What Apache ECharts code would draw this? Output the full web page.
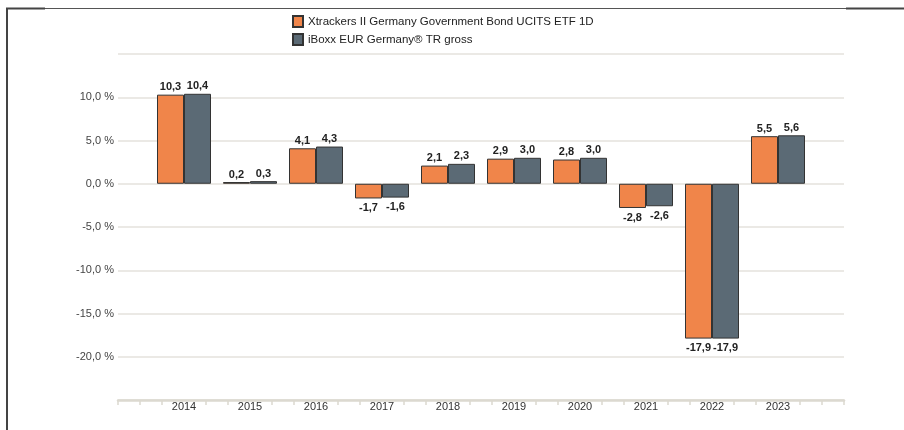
<!DOCTYPE html>
<html>
<head>
<meta charset="utf-8">
<script src="https://cdn.jsdelivr.net/npm/echarts@6/dist/echarts.min.js"></script>
<style>
html,body{margin:0;padding:0;background:#fff;}
#chart{width:904px;height:430px;}
</style>
</head>
<body>
<div id="chart"></div>
<script>
const years = [2014, 2015, 2016, 2017, 2018, 2019, 2020, 2021, 2022, 2023];
const etfName = 'Xtrackers II Germany Government Bond UCITS ETF 1D';
const idxName = 'iBoxx EUR Germany® TR gross';
const etfValues = [10.3, 0.2, 4.1, -1.7, 2.1, 2.9, 2.8, -2.8, -17.9, 5.5];
const idxValues = [10.4, 0.3, 4.3, -1.6, 2.3, 3.0, 3.0, -2.6, -17.9, 5.6];
const yTickLabels = [-20, -15, -10, -5, 0, 5, 10];

const fmt = v => v.toFixed(1).replace('.', ',');
function build(vals) {
  return vals.map((v, i) => ({
    value: [years[i], v],
    label: { position: v >= 0 ? 'top' : 'bottom', distance: v >= 0 ? 2 : 4 }
  }));
}
const minorTicks = [];
for (let y = 2013; y < 2024; y++) {
  minorTicks.push(y + 1/3, y + 2/3);
}
minorTicks.push(2013, 2024);

const chart = echarts.init(document.getElementById('chart'), null, {renderer: 'canvas'});
const labelCfg = {
  show: true,
  fontFamily: 'Liberation Sans, Arial, sans-serif',
  fontSize: 11,
  fontWeight: 'bold',
  color: '#222',
  formatter: p => fmt(p.value[1])
};
chart.setOption({
  animation: false,
  backgroundColor: '#fff',
  textStyle: { fontFamily: 'Liberation Sans, Arial, sans-serif' },
  legend: {
    orient: 'vertical',
    left: 287,
    top: 10,
    icon: 'rect',
    itemWidth: 10,
    itemHeight: 11,
    itemGap: 5,
    textStyle: { fontSize: 11.5, color: '#222', fontFamily: 'Liberation Sans, Arial, sans-serif' },
    data: [etfName, idxName]
  },
  grid: { left: 118, right: 60, top: 54, bottom: 30, containLabel: false },
  xAxis: {
    type: 'value',
    min: 2013,
    max: 2024,
    interval: 1,
    axisLine: { show: true, onZero: false, lineStyle: { color: '#dcd9d0', width: 2.5 } },
    axisTick: { show: true, customValues: minorTicks, length: 5, lineStyle: { color: '#dcd9d0', width: 1.5 } },
    splitLine: { show: false },
    axisLabel: {
      customValues: years,
      formatter: v => String(v),
      fontSize: 11,
      color: '#333',
      margin: 1
    }
  },
  yAxis: {
    type: 'value',
    min: -25,
    max: 15,
    interval: 5,
    axisLine: { show: false },
    axisTick: { show: false },
    splitLine: { show: true, lineStyle: { color: '#e4e2dc', width: 1.5 } },
    axisLabel: {
      fontSize: 11,
      color: '#444',
      margin: 4,
      formatter: v => (yTickLabels.indexOf(v) >= 0 ? fmt(v) + ' %' : '')
    }
  },
  series: [
    {
      name: etfName,
      type: 'bar',
      barWidth: 27,
      barGap: '0%',
      itemStyle: { color: '#f0854a', borderColor: '#333', borderWidth: 1 },
      label: labelCfg,
      data: build(etfValues)
    },
    {
      name: idxName,
      type: 'bar',
      barWidth: 27,
      barGap: '0%',
      itemStyle: { color: '#5b6a75', borderColor: '#333', borderWidth: 1 },
      label: labelCfg,
      data: build(idxValues)
    }
  ],
  graphic: [
    { type: 'line', shape: { x1: 6, y1: 8.5, x2: 904, y2: 8.5 }, style: { stroke: '#555', lineWidth: 1 } },
    { type: 'line', shape: { x1: 6, y1: 8.5, x2: 45, y2: 8.5 }, style: { stroke: '#444', lineWidth: 2 } },
    { type: 'line', shape: { x1: 846, y1: 8.5, x2: 904, y2: 8.5 }, style: { stroke: '#444', lineWidth: 2 } },
    { type: 'line', shape: { x1: 7, y1: 8, x2: 7, y2: 430 }, style: { stroke: '#444', lineWidth: 2 } }
  ]
});
</script>
</body>
</html>
